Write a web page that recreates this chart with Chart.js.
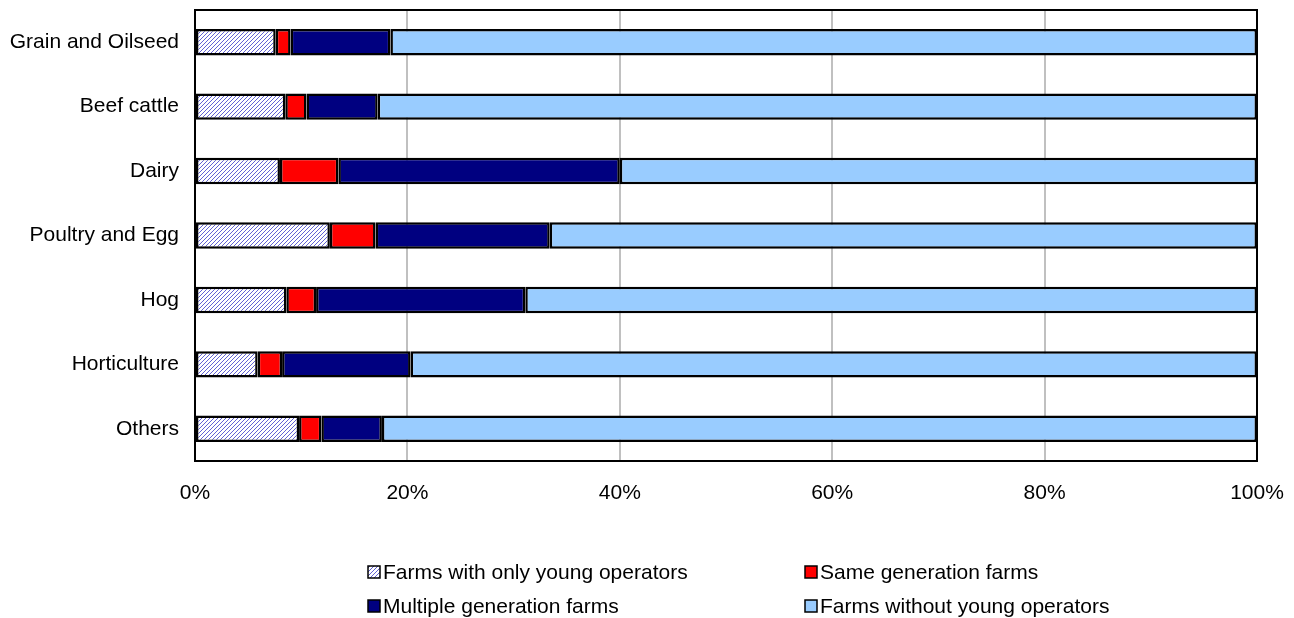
<!DOCTYPE html>
<html>
<head>
<meta charset="utf-8">
<script src="https://cdn.jsdelivr.net/npm/chart.js@4/dist/chart.umd.min.js"></script>
<style>
  html, body { margin: 0; padding: 0; background: #fff; }
  #wrap { width: 1294px; height: 618px; }
</style>
</head>
<body>
<div id="wrap"><canvas id="grafico1" width="1294" height="618"></canvas></div>
<script>
// dados (em %)
const categories = ['Grain and Oilseed', 'Beef cattle', 'Dairy', 'Poultry and Egg', 'Hog', 'Horticulture', 'Others'];
const onlyYoung = [7.6, 8.5, 8.0, 12.7, 8.6, 5.9, 9.8];
const sameGen = [1.4, 2.0, 5.5, 4.3, 2.8, 2.3, 2.1];
const multiGen = [9.4, 6.7, 26.5, 16.4, 19.7, 12.1, 5.7];
const withoutYoung = [81.6, 82.8, 60.0, 66.6, 68.9, 79.7, 82.4];
const seriesNames = ['Farms with only young operators', 'Same generation farms', 'Multiple generation farms', 'Farms without young operators'];
const xTicks = [0, 20, 40, 60, 80, 100];

const ctx = document.getElementById('grafico1').getContext('2d');
const FONT = 'Liberation Sans, Arial, sans-serif';

// hachura diagonal para a primeira série
function makeHatch() {
  const c = document.createElement('canvas');
  c.width = 4; c.height = 4;
  const g = c.getContext('2d');
  g.fillStyle = '#ffffff';
  g.fillRect(0, 0, 4, 4);
  g.strokeStyle = '#6262d4';
  g.lineWidth = 1;
  g.beginPath();
  g.moveTo(-1, 5); g.lineTo(5, -1);
  g.stroke();
  return ctx.createPattern(c, 'repeat');
}
const hatch = makeHatch();

// caixa preta em volta da área do gráfico
const frame = {
  id: 'frame',
  afterDraw(chart) {
    const a = chart.chartArea;
    const c = chart.ctx;
    c.save();
    c.strokeStyle = '#000';
    c.lineWidth = 2;
    c.strokeRect(a.left, a.top, a.right - a.left, a.bottom - a.top);
    c.restore();
  }
};

// legenda em duas colunas
const legend2 = {
  id: 'legend2',
  afterDraw(chart) {
    const c = chart.ctx;
    const cols = [368, 805];
    const rows = [572, 606];
    c.save();
    c.font = '21px ' + FONT;
    c.textBaseline = 'middle';
    chart.data.datasets.forEach((ds, i) => {
      const x = cols[i % 2];
      const y = rows[Math.floor(i / 2)];
      c.fillStyle = ds.backgroundColor;
      c.fillRect(x, y - 6, 12, 12);
      c.strokeStyle = '#000';
      c.lineWidth = 1.5;
      c.strokeRect(x, y - 6, 12, 12);
      c.fillStyle = '#000';
      c.fillText(ds.label, x + 15, y + 1);
    });
    c.restore();
  }
};

const colors = [hatch, '#ff0000', '#000080', '#99ccff'];
const values = [onlyYoung, sameGen, multiGen, withoutYoung];

const chart = new Chart(ctx, {
  type: 'bar',
  data: {
    labels: categories,
    datasets: values.map((v, i) => ({
      label: seriesNames[i],
      data: v,
      backgroundColor: colors[i],
      borderColor: '#000',
      borderWidth: 2.5,
      borderSkipped: false,
      categoryPercentage: 1,
      barPercentage: 0.41
    }))
  },
  options: {
    indexAxis: 'y',
    responsive: false,
    animation: false,
    devicePixelRatio: 1,
    layout: { padding: { top: 10, right: 37, bottom: 107, left: 0 } },
    plugins: {
      legend: { display: false },
      tooltip: { enabled: false }
    },
    scales: {
      x: {
        stacked: true,
        min: 0,
        max: 100,
        afterBuildTicks: axis => { axis.ticks = xTicks.map(v => ({ value: v })); },
        afterFit: axis => { axis.height = 50; axis.paddingLeft = 0; axis.paddingRight = 0; },
        grid: { color: '#c0c0c0', lineWidth: 2, drawTicks: false },
        border: { color: '#000', width: 2 },
        ticks: {
          padding: 20,
          color: '#000',
          font: { family: FONT, size: 21 },
          callback: v => v + '%'
        }
      },
      y: {
        stacked: true,
        afterFit: axis => { axis.width = 195; axis.paddingTop = 0; axis.paddingBottom = 0; },
        grid: { display: false, drawTicks: false },
        border: { color: '#000', width: 2 },
        ticks: {
          padding: 16,
          color: '#000',
          font: { family: FONT, size: 21 }
        }
      }
    }
  },
  plugins: [frame, legend2]
});
</script>
</body>
</html>
